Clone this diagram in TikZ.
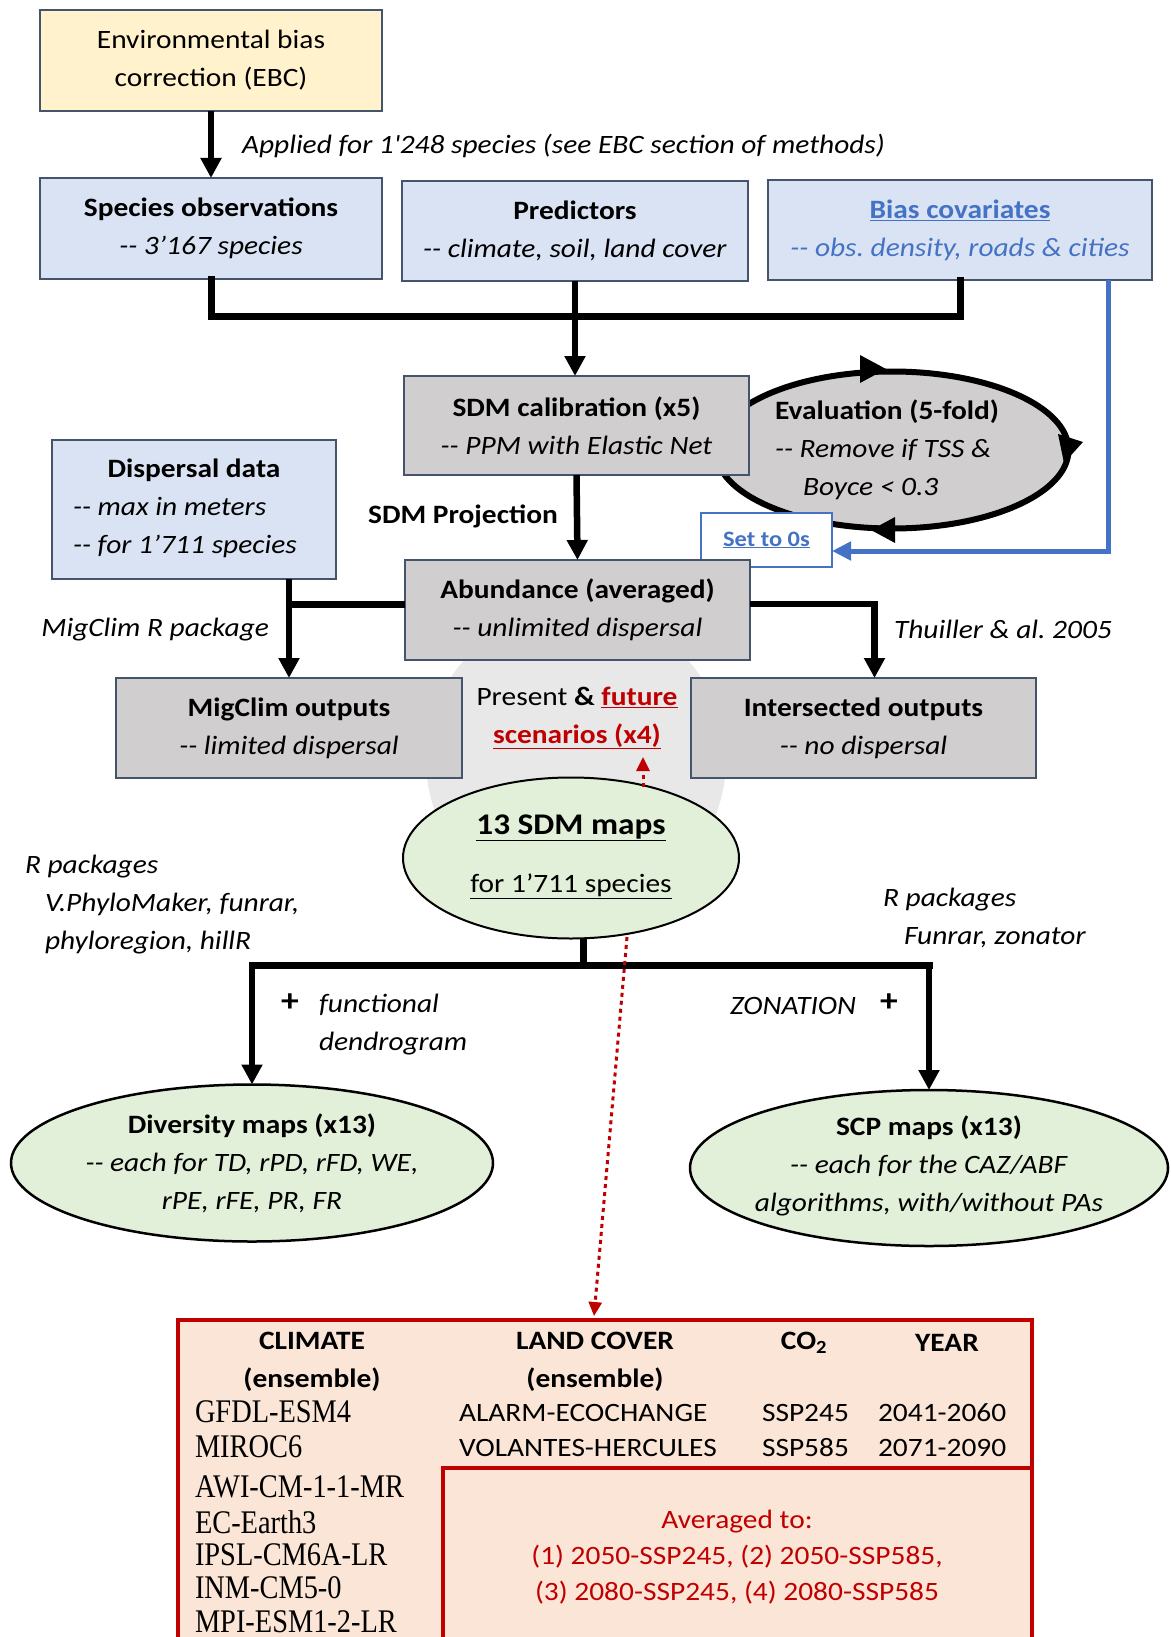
\documentclass[tikz,border=0pt]{standalone}
\usepackage{fontspec}
\setmainfont{Carlito}[FakeStretch=1.11]
\newfontfamily\tnr{Liberation Serif}[FakeStretch=0.86]
\usetikzlibrary{arrows.meta,shapes.geometric}
\definecolor{yfill}{HTML}{FFF2CC}
\definecolor{bfill}{HTML}{DAE3F3}
\definecolor{gfillbox}{HTML}{D0CECE}
\definecolor{gfill}{HTML}{E2EFD9}
\definecolor{sfill}{HTML}{FBE5D6}
\definecolor{bordc}{HTML}{44546A}
\definecolor{bluec}{HTML}{4472C4}
\definecolor{redc}{HTML}{C00000}
\definecolor{bgc}{HTML}{E8E8E8}
\newcommand\fs{\fontsize{26.5}{38}\selectfont}
\newcommand\dsh{-{}-}
\frenchspacing
\begin{document}
\begin{tikzpicture}[x=1pt,y=-1pt,
  every node/.style={inner sep=0pt, outer sep=0pt, font=\fs},
  box/.style={draw=bordc, line width=2pt, align=center},
  arr/.style={line width=6.5pt, -{Triangle[length=20pt,width=20pt]}},
  bus/.style={line width=7pt, line cap=rect, line join=miter},
  bluearr/.style={draw=bluec, line width=5pt, -{Triangle[length=19pt,width=18pt]}},
  redarr/.style={draw=redc, line width=3pt, dash pattern=on 4pt off 4pt, -{Triangle[length=14pt,width=13pt]}},
  itx/.style={font=\fs\itshape},
  bfx/.style={font=\fs\bfseries}]
\useasboundingbox (0,0) rectangle (1170,1637);
\clip (0,0) rectangle (1170,1637);

% background gray disc
\node[circle, fill=bgc, minimum size=300pt] (bg) at (576,760) {};

% top boxes
\node[box, fill=yfill, minimum width=342pt, minimum height=101pt] (ebc) at (211,60.5) {Environmental bias\\correction (EBC)};
\node[box, fill=bfill, minimum width=342pt, minimum height=101pt] (species) at (211,228.5) {\textbf{Species observations}\\\textit{\dsh{} 3’167 species}};
\node[box, fill=bfill, minimum width=346pt, minimum height=100pt] (pred) at (575,231) {\textbf{Predictors}\\\textit{\dsh{} climate, soil, land cover}};
\node[box, fill=bfill, minimum width=384pt, minimum height=100pt, text=bluec] (bias) at (960,230) {\textbf{\underline{Bias covariates}}\\\textit{\dsh{} obs. density, roads \& cities}};

\draw[arr] (ebc.south) -- (species.north);
\node[itx, anchor=west] (applied) at (242,146) {Applied for 1\textquotesingle 248 species (see EBC section of methods)};

% evaluation ellipse
\node[ellipse, draw, line width=6pt, fill=gfillbox, minimum width=353pt, minimum height=157pt] (eval) at (892,450) {};
\fill (886,369) -- (860,355) -- (860,383) -- cycle;
\fill (1064,463) -- (1083,442) -- (1058,434) -- cycle;
\fill (871,530) -- (895,517) -- (895,543) -- cycle;

% calibration
\node[box, fill=gfillbox, minimum width=345pt, minimum height=99pt] (calib) at (576.5,425.5) {\textbf{SDM calibration (x5)}\\\textit{\dsh{} PPM with Elastic Net}};
\node[align=left, anchor=west] (evaltxt) at (775,450) {\textbf{Evaluation (5-fold)}\\\textit{\dsh{} Remove if TSS \&}\\\hspace*{28pt}\textit{Boyce < 0.3}};

% bus from top boxes
\draw[bus] (species.south) -- ++(0,37) -| (bias.south);
\draw[arr] (pred.south) -- (pred.south |- calib.north);

% set to 0s
\node[draw=bluec, line width=2pt, fill=white, minimum width=131pt, minimum height=54pt, font=\fontsize{22}{28}\selectfont\bfseries, text=bluec] (set0) at (766.5,540) {\underline{Set to 0s}};
\draw[bluearr] ([xshift=148pt]bias.south) |- ([yshift=-11pt]set0.east);

% abundance
\node[box, fill=gfillbox, minimum width=345pt, minimum height=100pt] (abund) at (577.5,610) {\textbf{Abundance (averaged)}\\\textit{\dsh{} unlimited dispersal}};
\draw[arr] (calib.south) -- (abund.north);
\node[bfx] (proj) at (463,516) {SDM Projection};

% dispersal
\node[box, fill=bfill, minimum width=284pt, minimum height=139pt] (disp) at (194,509.5) {};
\node[bfx] (disptitle) at (194,470) {Dispersal data};
\node[itx, align=left, anchor=west] (disptxt) at (73,527.5) {\dsh{} max in meters\\\dsh{} for 1’711 species};

% outputs
\node[box, fill=gfillbox, minimum width=346pt, minimum height=100pt] (mig) at (289,728) {\textbf{MigClim outputs}\\\textit{\dsh{} limited dispersal}};
\node[box, fill=gfillbox, minimum width=345pt, minimum height=100pt] (inter) at (863.5,728) {\textbf{Intersected outputs}\\\textit{\dsh{} no dispersal}};
\draw[arr] (disp.south -| mig.north) -- (mig.north);
\draw[bus, line cap=butt] ([yshift=6pt]abund.west) -- ([yshift=6pt]abund.west -| mig.north);
\draw[arr] ([yshift=6pt]abund.east) -| ([xshift=11pt]inter.north);
\node[itx, anchor=east] (migl) at (269,630) {MigClim R package};
\node[itx, anchor=west] (thl) at (894,629) {Thuiller \& al. 2005};

\node[align=center] (present) at (577,718) {Present \textbf{\&} \textbf{\color{redc}\underline{future}}\\\textbf{\color{redc}\underline{scenarios (x4)}}};

% SDM maps
\node[ellipse, draw, line width=2pt, fill=gfill, minimum width=336pt, minimum height=161pt] (sdm) at (571,858) {};
\node[font=\fontsize{30}{34}\selectfont\bfseries] (sdmt) at (571,828) {\underline{13 SDM maps}};
\node (sdms) at (571,886) {\underline{for 1’711 species}};

\coordinate (rup1) at (643,787);
\coordinate (rup2) at (643,757);
\draw[redarr] (rup1) -- (rup2);

% tree
\coordinate (busL) at (252,965);
\coordinate (busR) at (929,965);
\node[ellipse, draw, line width=2.5pt, fill=gfill, minimum width=482pt, minimum height=157pt] (div) at (252,1163) {};
\node[align=center] (divtxt) at (252,1163) {\textbf{Diversity maps (x13)}\\\textit{\dsh{} each for TD, rPD, rFD, WE,}\\\textit{rPE, rFE, PR, FR}};
\node[ellipse, draw, line width=2.5pt, fill=gfill, minimum width=478pt, minimum height=156pt] (scp) at (929,1168) {};
\node[align=center] (scptxt) at (929,1166) {\textbf{SCP maps (x13)}\\\textit{\dsh{} each for the CAZ/ABF}\\\textit{algorithms, with/without PAs}};

\draw[bus] (busL) -- (busR);
\draw[bus, line cap=butt] ([xshift=12pt]sdm.south) -- ([xshift=12pt]sdm.south |- busL);
\draw[arr] (busL) -- (div.north);
\draw[arr] (busR) -- (scp.north);

\node[itx, align=left, anchor=west] (rpl) at (25,905) {R packages\\\hspace*{20pt}V.PhyloMaker, funrar,\\\hspace*{20pt}phyloregion, hillR};
\node[itx, align=left, anchor=west] (rpr) at (883,918) {R packages\\\hspace*{21pt}Funrar, zonator};
\node[font=\fontsize{32}{38}\selectfont\bfseries] (plus1) at (290,1003) {+};
\node[itx, align=left, anchor=west] (func) at (319,1025) {functional\\dendrogram};
\node[itx, anchor=west] (zon) at (730,1006) {ZONATION};
\node[font=\fontsize{32}{38}\selectfont\bfseries] (plus2) at (889,1003) {+};

% table
\node[draw=redc, line width=4pt, fill=sfill, minimum width=854pt, minimum height=360pt, anchor=north west] (tbl) at (178,1320) {};
\draw[redc, line width=4pt] (443,1680) -- (443,1468) -- (tbl.east |- 0,1468);

\coordinate (rdn1) at (627,937);
\coordinate (rdn2) at (594,1316);
\draw[redarr] (rdn1) -- (rdn2);

\node[bfx, align=center] (hclim) at (312,1362) {CLIMATE\\(ensemble)};
\node[bfx, align=center] (hland) at (595,1362) {LAND COVER\\(ensemble)};
\node[bfx] (hco) at (804,1343) {CO\textsubscript{2}};
\node[bfx] (hyear) at (947,1343) {YEAR};

\foreach \t/\y [count=\i] in {GFDL-ESM4/1412, MIROC6/1447, AWI-CM-1-1-MR/1487, EC-Earth3/1522, IPSL-CM6A-LR/1555, INM-CM5-0/1588, MPI-ESM1-2-LR/1622}
  \node[anchor=west, font=\fontsize{33}{36}\tnr] (clim\i) at (195,\y) {\t};

\node[anchor=west] (lc1) at (459,1413) {ALARM-ECOCHANGE};
\node[anchor=west] (lc2) at (459,1448) {VOLANTES-HERCULES};
\node[anchor=west] (co1) at (762,1413) {SSP245};
\node[anchor=west] (co2) at (762,1448) {SSP585};
\node[anchor=west] (yr1) at (878,1413) {2041-2060};
\node[anchor=west] (yr2) at (878,1448) {2071-2090};

\node[align=center, text=redc, font=\fontsize{26.5}{36}\selectfont] (avg) at (737,1557) {Averaged to:\\(1) 2050-SSP245, (2) 2050-SSP585,\\(3) 2080-SSP245, (4) 2080-SSP585};
\end{tikzpicture}
\end{document}
